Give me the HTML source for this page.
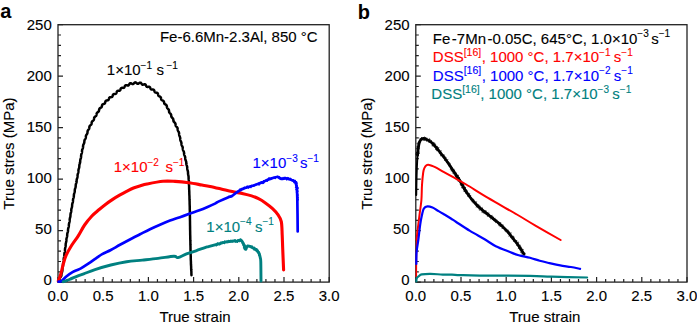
<!DOCTYPE html>
<html><head><meta charset="utf-8"><style>
html,body{margin:0;padding:0;background:#fff;width:697px;height:325px;overflow:hidden}
svg{display:block}
.t{font-family:"Liberation Sans",sans-serif;font-size:15px;stroke-width:0.12}
.sup{font-size:10px}
.big{font-family:"Liberation Sans",sans-serif;font-size:20px;font-weight:bold}
</style></head><body>
<svg width="697" height="325" viewBox="0 0 697 325">
<rect x="58.0" y="24.7" width="271.2" height="257.4" fill="none" stroke="#222" stroke-width="1.3"/>
<path d="M58.00,282.1V277.1M67.04,282.1V279.1M76.08,282.1V279.1M85.12,282.1V279.1M94.16,282.1V279.1M103.20,282.1V277.1M112.24,282.1V279.1M121.28,282.1V279.1M130.32,282.1V279.1M139.36,282.1V279.1M148.40,282.1V277.1M157.44,282.1V279.1M166.48,282.1V279.1M175.52,282.1V279.1M184.56,282.1V279.1M193.60,282.1V277.1M202.64,282.1V279.1M211.68,282.1V279.1M220.72,282.1V279.1M229.76,282.1V279.1M238.80,282.1V277.1M247.84,282.1V279.1M256.88,282.1V279.1M265.92,282.1V279.1M274.96,282.1V279.1M284.00,282.1V277.1M293.04,282.1V279.1M302.08,282.1V279.1M311.12,282.1V279.1M320.16,282.1V279.1M329.20,282.1V277.1M58.0,282.10H63.0M58.0,271.80H61.0M58.0,261.51H61.0M58.0,251.21H61.0M58.0,240.92H61.0M58.0,230.62H63.0M58.0,220.32H61.0M58.0,210.03H61.0M58.0,199.73H61.0M58.0,189.44H61.0M58.0,179.14H63.0M58.0,168.84H61.0M58.0,158.55H61.0M58.0,148.25H61.0M58.0,137.96H61.0M58.0,127.66H63.0M58.0,117.36H61.0M58.0,107.07H61.0M58.0,96.77H61.0M58.0,86.48H61.0M58.0,76.18H63.0M58.0,65.88H61.0M58.0,55.59H61.0M58.0,45.29H61.0M58.0,35.00H61.0M58.0,24.70H63.0" stroke="#222" stroke-width="1.2" fill="none"/>
<text x="58.0" y="300.5" text-anchor="middle" class="t" stroke="#000">0.0</text>
<text x="103.2" y="300.5" text-anchor="middle" class="t" stroke="#000">0.5</text>
<text x="148.4" y="300.5" text-anchor="middle" class="t" stroke="#000">1.0</text>
<text x="193.6" y="300.5" text-anchor="middle" class="t" stroke="#000">1.5</text>
<text x="238.8" y="300.5" text-anchor="middle" class="t" stroke="#000">2.0</text>
<text x="284.0" y="300.5" text-anchor="middle" class="t" stroke="#000">2.5</text>
<text x="329.2" y="300.5" text-anchor="middle" class="t" stroke="#000">3.0</text>
<text x="51.8" y="284.8" text-anchor="end" class="t" stroke="#000">0</text>
<text x="51.8" y="233.8" text-anchor="end" class="t" stroke="#000">50</text>
<text x="51.8" y="182.8" text-anchor="end" class="t" stroke="#000">100</text>
<text x="51.8" y="131.7" text-anchor="end" class="t" stroke="#000">150</text>
<text x="51.8" y="80.7" text-anchor="end" class="t" stroke="#000">200</text>
<text x="51.8" y="29.7" text-anchor="end" class="t" stroke="#000">250</text>
<text x="195.0" y="321.5" text-anchor="middle" class="t" stroke="#000">True strain</text>
<text transform="translate(13.5,153.5) rotate(-90)" x="0" y="0" text-anchor="middle" class="t" stroke="#000">True stres (MPa)</text>
<rect x="415.8" y="24.7" width="271.2" height="257.4" fill="none" stroke="#222" stroke-width="1.3"/>
<path d="M415.80,282.1V277.1M424.84,282.1V279.1M433.88,282.1V279.1M442.92,282.1V279.1M451.96,282.1V279.1M461.00,282.1V277.1M470.04,282.1V279.1M479.08,282.1V279.1M488.12,282.1V279.1M497.16,282.1V279.1M506.20,282.1V277.1M515.24,282.1V279.1M524.28,282.1V279.1M533.32,282.1V279.1M542.36,282.1V279.1M551.40,282.1V277.1M560.44,282.1V279.1M569.48,282.1V279.1M578.52,282.1V279.1M587.56,282.1V279.1M596.60,282.1V277.1M605.64,282.1V279.1M614.68,282.1V279.1M623.72,282.1V279.1M632.76,282.1V279.1M641.80,282.1V277.1M650.84,282.1V279.1M659.88,282.1V279.1M668.92,282.1V279.1M677.96,282.1V279.1M687.00,282.1V277.1M415.8,282.10H420.8M415.8,271.80H418.8M415.8,261.51H418.8M415.8,251.21H418.8M415.8,240.92H418.8M415.8,230.62H420.8M415.8,220.32H418.8M415.8,210.03H418.8M415.8,199.73H418.8M415.8,189.44H418.8M415.8,179.14H420.8M415.8,168.84H418.8M415.8,158.55H418.8M415.8,148.25H418.8M415.8,137.96H418.8M415.8,127.66H420.8M415.8,117.36H418.8M415.8,107.07H418.8M415.8,96.77H418.8M415.8,86.48H418.8M415.8,76.18H420.8M415.8,65.88H418.8M415.8,55.59H418.8M415.8,45.29H418.8M415.8,35.00H418.8M415.8,24.70H420.8" stroke="#222" stroke-width="1.2" fill="none"/>
<text x="415.8" y="300.5" text-anchor="middle" class="t" stroke="#000">0.0</text>
<text x="461.0" y="300.5" text-anchor="middle" class="t" stroke="#000">0.5</text>
<text x="506.2" y="300.5" text-anchor="middle" class="t" stroke="#000">1.0</text>
<text x="551.4" y="300.5" text-anchor="middle" class="t" stroke="#000">1.5</text>
<text x="596.6" y="300.5" text-anchor="middle" class="t" stroke="#000">2.0</text>
<text x="641.8" y="300.5" text-anchor="middle" class="t" stroke="#000">2.5</text>
<text x="687.0" y="300.5" text-anchor="middle" class="t" stroke="#000">3.0</text>
<text x="409.6" y="284.8" text-anchor="end" class="t" stroke="#000">0</text>
<text x="409.6" y="233.8" text-anchor="end" class="t" stroke="#000">50</text>
<text x="409.6" y="182.8" text-anchor="end" class="t" stroke="#000">100</text>
<text x="409.6" y="131.7" text-anchor="end" class="t" stroke="#000">150</text>
<text x="409.6" y="80.7" text-anchor="end" class="t" stroke="#000">200</text>
<text x="409.6" y="29.7" text-anchor="end" class="t" stroke="#000">250</text>
<text x="544.8" y="321.5" text-anchor="middle" class="t" stroke="#000">True strain</text>
<text transform="translate(372.3,153.5) rotate(-90)" x="0" y="0" text-anchor="middle" class="t" stroke="#000">True stres (MPa)</text>
<polyline points="58.50,281.50 58.66,281.33 58.85,281.15 59.05,280.95 59.23,280.71 59.38,280.43 59.50,280.10 59.56,279.73 59.59,279.31 59.63,278.88 59.69,278.45 59.83,278.04 60.06,277.65 60.36,277.28 60.69,276.90 61.00,276.50 61.24,276.05 61.37,275.56 61.43,275.04 61.44,274.50 61.47,273.97 61.52,273.64 61.59,273.32 61.69,272.99 61.80,272.67 61.93,272.34 62.05,272.00 62.16,271.66 62.25,271.31 62.31,270.95 62.35,270.58 62.37,270.21 62.38,269.82 62.39,269.44 62.40,269.04 62.43,268.65 62.48,268.25 62.56,267.85 62.65,267.44 62.75,267.03 62.85,266.62 62.92,266.19 62.97,265.75 63.00,265.31 63.01,264.85 63.01,264.39 63.03,263.92 63.08,263.45 63.16,262.97 63.27,262.49 63.39,262.01 63.51,261.52 63.60,261.01 63.64,260.68 63.66,260.33 63.67,259.97 63.67,259.61 63.68,259.24 63.70,258.87 63.74,258.49 63.81,258.12 63.90,257.74 63.99,257.36 64.09,256.97 64.19,256.58 64.26,256.18 64.30,255.77 64.33,255.36 64.34,254.94 64.34,254.52 64.36,254.10 64.39,253.68 64.45,253.26 64.54,252.84 64.65,252.42 64.76,252.00 64.85,251.58 64.93,251.16 64.97,250.73 64.99,250.29 65.00,249.86 65.00,249.42 65.03,248.99 65.07,248.56 65.15,248.14 65.25,247.72 65.36,247.30 65.47,246.88 65.56,246.47 65.62,246.05 65.66,245.63 65.67,245.22 65.68,244.80 65.69,244.39 65.71,243.98 65.76,243.58 65.83,243.19 65.93,242.80 66.04,242.43 66.14,242.05 66.24,241.68 66.31,241.32 66.37,240.88 66.39,240.44 66.40,240.00 66.41,239.56 66.43,239.12 66.48,238.70 66.57,238.28 66.68,237.86 66.81,237.46 66.93,237.05 67.04,236.64 67.12,236.24 67.17,235.82 67.19,235.41 67.20,235.00 67.21,234.58 67.23,234.18 67.28,233.77 67.37,233.38 67.48,232.99 67.60,232.61 67.73,232.23 67.84,231.84 67.93,231.46 67.99,231.07 68.02,230.68 68.03,230.28 68.04,229.89 68.05,229.50 68.09,229.11 68.15,228.73 68.23,228.36 68.35,227.99 68.47,227.62 68.59,227.25 68.69,226.88 68.77,226.51 68.83,226.14 68.86,225.76 68.87,225.38 68.87,225.00 68.89,224.55 68.93,224.12 69.00,223.70 69.10,223.29 69.22,222.88 69.34,222.48 69.46,222.08 69.55,221.69 69.62,221.29 69.65,220.88 69.66,220.48 69.67,220.08 69.68,219.68 69.71,219.29 69.76,218.90 69.84,218.51 69.95,218.13 70.07,217.75 70.18,217.37 70.29,216.99 70.37,216.60 70.42,216.21 70.44,215.81 70.45,215.40 70.46,214.99 70.48,214.58 70.52,214.17 70.59,213.77 70.69,213.36 70.82,212.95 70.95,212.54 71.08,212.13 71.17,211.70 71.24,211.26 71.26,210.81 71.27,210.44 71.28,210.06 71.29,209.67 71.33,209.29 71.40,208.91 71.50,208.53 71.61,208.15 71.74,207.77 71.87,207.38 71.98,206.99 72.05,206.59 72.10,206.19 72.12,205.77 72.12,205.36 72.13,204.94 72.17,204.52 72.23,204.11 72.32,203.70 72.45,203.30 72.59,202.90 72.72,202.50 72.84,202.09 72.92,201.68 72.97,201.26 72.99,200.84 72.99,200.42 73.00,200.00 73.04,199.58 73.10,199.18 73.20,198.77 73.32,198.38 73.46,197.99 73.59,197.61 73.70,197.22 73.79,196.83 73.84,196.44 73.86,196.04 73.87,195.65 73.88,195.26 73.90,194.88 73.94,194.50 74.01,194.14 74.10,193.78 74.24,193.36 74.39,192.94 74.53,192.53 74.64,192.13 74.72,191.72 74.76,191.31 74.77,190.90 74.78,190.50 74.79,190.10 74.83,189.71 74.89,189.33 74.98,188.96 75.10,188.60 75.24,188.24 75.37,187.88 75.49,187.52 75.59,187.15 75.65,186.78 75.69,186.41 75.71,186.03 75.71,185.64 75.72,185.26 75.76,184.87 75.81,184.49 75.91,184.11 76.03,183.73 76.17,183.35 76.31,182.97 76.44,182.58 76.54,182.17 76.60,181.76 76.63,181.33 76.64,180.88 76.65,180.43 76.68,179.98 76.73,179.61 76.81,179.25 76.92,178.88 77.05,178.51 77.19,178.14 77.31,177.76 77.41,177.37 77.48,176.97 77.52,176.56 77.54,176.14 77.54,175.72 77.56,175.29 77.60,174.87 77.68,174.45 77.79,174.03 77.93,173.62 78.08,173.21 78.21,172.79 78.32,172.37 78.38,171.94 78.41,171.50 78.42,171.06 78.43,170.62 78.46,170.18 78.52,169.75 78.62,169.33 78.74,168.91 78.89,168.50 79.03,168.10 79.15,167.69 79.23,167.28 79.28,166.86 79.30,166.45 79.31,166.03 79.32,165.62 79.35,165.22 79.40,164.83 79.49,164.45 79.60,164.08 79.73,163.72 79.85,163.36 79.97,163.01 80.06,162.67 80.13,162.32 80.18,161.84 80.20,161.35 80.21,160.87 80.23,160.41 80.29,159.95 80.39,159.51 80.52,159.09 80.67,158.67 80.81,158.25 80.93,157.84 81.01,157.43 81.06,157.02 81.08,156.61 81.09,156.20 81.10,155.80 81.13,155.40 81.18,155.02 81.26,154.64 81.37,154.27 81.50,153.91 81.63,153.56 81.76,153.20 81.86,152.85 81.94,152.49 81.99,152.13 82.01,151.76 82.02,151.40 82.03,151.03 82.04,150.67 82.08,150.32 82.15,149.97 82.29,149.52 82.46,149.09 82.64,148.67 82.80,148.27 82.93,147.87 83.01,147.47 83.06,147.06 83.08,146.66 83.09,146.26 83.10,145.87 83.14,145.48 83.22,145.11 83.34,144.74 83.50,144.39 83.68,144.03 83.87,143.68 84.05,143.32 84.19,142.94 84.28,142.54 84.33,142.11 84.35,141.67 84.37,141.21 84.42,140.74 84.50,140.38 84.63,140.01 84.82,139.66 85.04,139.30 85.28,138.94 85.50,138.57 85.67,138.18 85.78,137.76 85.84,137.32 85.86,136.86 85.88,136.40 85.94,135.95 86.06,135.52 86.25,135.11 86.50,134.73 86.77,134.35 87.03,133.98 87.24,133.59 87.39,133.18 87.47,132.76 87.50,132.33 87.52,131.89 87.55,131.48 87.63,131.09 87.75,130.72 87.93,130.39 88.15,130.09 88.38,129.81 88.60,129.54 88.93,129.10 89.15,128.66 89.27,128.21 89.33,127.76 89.35,127.32 89.39,126.91 89.46,126.53 89.60,126.18 89.79,125.88 90.03,125.61 90.32,125.36 90.63,125.12 90.93,124.86 91.19,124.57 91.40,124.23 91.54,123.83 91.61,123.36 91.64,122.97 91.68,122.57 91.75,122.19 91.88,121.83 92.08,121.51 92.36,121.22 92.68,120.95 93.03,120.69 93.35,120.41 93.63,120.11 93.83,119.75 93.95,119.36 94.01,118.92 94.05,118.47 94.11,118.02 94.23,117.61 94.43,117.24 94.71,116.92 95.07,116.64 95.45,116.37 95.81,116.10 96.12,115.78 96.32,115.45 96.44,115.07 96.51,114.64 96.55,114.20 96.61,113.75 96.71,113.34 96.90,112.97 97.18,112.64 97.53,112.36 97.91,112.10 98.29,111.83 98.60,111.53 98.84,111.18 98.98,110.78 99.06,110.34 99.11,109.88 99.17,109.44 99.28,109.02 99.48,108.67 99.76,108.37 100.10,108.13 100.48,107.92 100.86,107.72 101.20,107.51 101.53,107.19 101.75,106.80 101.87,106.34 101.94,105.85 102.03,105.36 102.17,104.93 102.41,104.57 102.75,104.31 103.16,104.12 103.62,103.98 104.07,103.84 104.46,103.65 104.78,103.40 105.00,103.06 105.14,102.64 105.24,102.17 105.34,101.70 105.49,101.27 105.73,100.92 106.07,100.67 106.51,100.51 107.03,100.42 107.54,100.34 108.01,100.20 108.38,99.96 108.64,99.58 108.81,99.11 108.95,98.59 109.10,98.09 109.33,97.69 109.65,97.42 110.06,97.26 110.53,97.20 111.00,97.17 111.45,97.12 111.83,97.02 112.13,96.84 112.35,96.61 112.62,96.01 112.78,95.43 112.92,94.94 113.11,94.57 113.35,94.31 113.66,94.13 114.07,94.03 114.58,93.98 115.19,93.93 115.59,93.85 115.94,93.68 116.22,93.39 116.42,92.99 116.57,92.50 116.71,91.99 116.89,91.52 117.18,91.16 117.58,90.94 118.07,90.84 118.61,90.81 119.14,90.78 119.60,90.69 119.96,90.48 120.22,90.14 120.41,89.71 120.56,89.22 120.71,88.75 120.92,88.34 121.22,88.05 121.60,87.89 122.06,87.83 122.55,87.85 123.05,87.88 123.50,87.85 123.88,87.74 124.18,87.50 124.41,87.15 124.63,86.65 124.84,86.12 125.09,85.66 125.42,85.35 125.85,85.20 126.35,85.22 126.88,85.34 127.41,85.47 127.89,85.52 128.30,85.44 128.64,85.20 128.92,84.82 129.21,84.31 129.51,83.82 129.86,83.44 130.27,83.26 130.74,83.28 131.24,83.47 131.75,83.75 132.24,84.00 132.69,84.13 133.10,84.08 133.48,83.83 133.85,83.44 134.23,82.99 134.63,82.61 135.05,82.38 135.50,82.37 135.95,82.57 136.39,82.92 136.82,83.32 137.23,83.64 137.64,83.81 138.05,83.79 138.48,83.58 138.93,83.26 139.40,82.92 139.87,82.69 140.33,82.63 140.75,82.79 141.12,83.13 141.46,83.59 141.77,84.07 142.10,84.45 142.47,84.67 142.87,84.70 143.33,84.61 143.85,84.45 144.38,84.32 144.88,84.30 145.30,84.43 145.64,84.74 145.89,85.19 146.11,85.71 146.33,86.21 146.61,86.61 146.98,86.85 147.42,86.92 147.91,86.89 148.43,86.81 148.94,86.77 149.39,86.83 149.76,87.04 150.05,87.40 150.25,87.87 150.43,88.39 150.63,88.88 150.90,89.26 151.29,89.49 151.79,89.59 152.26,89.60 152.75,89.59 153.22,89.62 153.63,89.74 153.95,90.00 154.19,90.38 154.36,90.85 154.50,91.35 154.67,91.81 154.91,92.18 155.25,92.43 155.69,92.57 156.20,92.65 156.72,92.73 157.20,92.88 157.57,93.14 157.81,93.48 157.96,93.89 158.05,94.35 158.13,94.81 158.23,95.25 158.42,95.63 158.69,95.94 159.06,96.18 159.48,96.39 159.92,96.60 160.32,96.84 160.63,97.14 160.85,97.52 160.98,97.96 161.05,98.44 161.12,98.92 161.23,99.38 161.44,99.77 161.72,100.05 162.08,100.28 162.49,100.47 162.91,100.65 163.30,100.87 163.61,101.15 163.83,101.49 163.97,101.91 164.04,102.37 164.11,102.83 164.21,103.27 164.38,103.65 164.64,103.96 164.98,104.21 165.37,104.42 165.77,104.63 166.13,104.87 166.42,105.14 166.63,105.47 166.76,105.84 166.84,106.30 166.88,106.76 166.93,107.19 167.02,107.57 167.18,107.92 167.40,108.23 167.66,108.52 167.95,108.79 168.25,109.08 168.52,109.38 168.74,109.72 168.89,110.09 168.99,110.51 169.03,110.97 169.06,111.46 169.13,111.96 169.31,112.44 169.49,112.74 169.74,113.01 170.02,113.29 170.33,113.56 170.62,113.85 170.86,114.18 171.03,114.54 171.14,114.94 171.19,115.38 171.22,115.84 171.27,116.29 171.38,116.71 171.57,117.10 171.84,117.45 172.17,117.77 172.52,118.09 172.83,118.42 173.08,118.78 173.24,119.18 173.32,119.61 173.36,120.06 173.39,120.51 173.45,120.94 173.58,121.32 173.77,121.67 174.02,121.99 174.34,122.31 174.68,122.61 174.99,122.92 175.23,123.26 175.40,123.62 175.49,124.02 175.54,124.43 175.57,124.86 175.62,125.27 175.71,125.65 175.88,126.00 176.10,126.31 176.39,126.61 176.69,126.89 176.99,127.19 177.25,127.51 177.44,127.87 177.57,128.27 177.63,128.70 177.65,129.14 177.68,129.60 177.74,130.04 177.87,130.48 178.03,130.81 178.22,131.14 178.43,131.48 178.63,131.83 178.82,132.19 178.95,132.57 179.04,132.97 179.09,133.38 179.11,133.81 179.12,134.24 179.14,134.66 179.21,135.08 179.32,135.50 179.47,135.90 179.65,136.30 179.83,136.70 179.99,137.11 180.11,137.52 180.19,137.94 180.22,138.37 180.24,138.81 180.25,139.24 180.28,139.67 180.35,140.08 180.47,140.48 180.62,140.86 180.80,141.23 180.99,141.60 181.15,141.96 181.29,142.37 181.38,142.79 181.43,143.21 181.44,143.63 181.46,144.06 181.49,144.47 181.57,144.87 181.69,145.25 181.86,145.62 182.06,145.97 182.26,146.33 182.45,146.68 182.60,147.05 182.70,147.43 182.76,147.83 182.78,148.24 182.79,148.65 182.82,149.06 182.87,149.47 182.97,149.86 183.12,150.25 183.31,150.64 183.51,151.02 183.70,151.42 183.86,151.83 183.97,152.26 184.02,152.63 184.04,153.02 184.05,153.42 184.07,153.81 184.11,154.21 184.18,154.60 184.30,154.98 184.46,155.35 184.64,155.73 184.81,156.10 184.97,156.48 185.09,156.88 185.17,157.28 185.21,157.70 185.22,158.12 185.23,158.54 185.26,158.96 185.33,159.38 185.44,159.78 185.58,160.17 185.75,160.56 185.92,160.95 186.07,161.35 186.18,161.75 186.25,162.16 186.28,162.58 186.29,163.00 186.30,163.41 186.33,163.83 186.38,164.23 186.47,164.62 186.59,165.01 186.73,165.40 186.87,165.78 187.00,166.16 187.10,166.55 187.17,166.95 187.21,167.35 187.22,167.75 187.23,168.15 187.24,168.55 187.27,168.95 187.33,169.35 187.43,169.73 187.54,170.12 187.66,170.50 187.78,170.89 187.87,171.28 187.94,171.67 187.99,172.07 188.01,172.47 188.01,172.87 188.02,173.28 188.04,173.68 188.07,174.08 188.14,174.48 188.22,174.88 188.31,175.28 188.40,175.67 188.48,176.08 188.54,176.48 188.57,176.89 188.59,177.29 188.59,177.68 188.60,178.07 188.60,178.46 188.62,178.84 188.65,179.21 188.69,179.59 188.74,179.96 188.78,180.33 188.83,180.70 188.87,181.07 188.90,181.45 188.91,181.82 188.92,182.20 188.93,182.58 188.93,182.97 188.93,183.36 188.94,183.75 188.95,184.15 188.97,184.55 189.00,184.96 189.03,185.37 189.06,185.79 189.08,186.22 189.10,186.66 189.11,187.10 189.12,187.56 189.12,188.03 189.12,188.50 189.13,188.99 189.15,189.49 189.19,190.00 189.21,190.33 189.24,190.67 189.26,191.01 189.28,191.35 189.29,191.70 189.30,192.05 189.31,192.40 189.31,192.76 189.31,193.12 189.31,193.49 189.32,193.85 189.33,194.22 189.35,194.59 189.37,194.97 189.39,195.35 189.42,195.73 189.44,196.11 189.46,196.50 189.47,196.89 189.47,197.28 189.47,197.68 189.48,198.07 189.48,198.47 189.48,198.88 189.50,199.28 189.51,199.69 189.54,200.10 189.56,200.51 189.58,200.92 189.60,201.34 189.61,201.75 189.62,202.17 189.62,202.60 189.62,203.02 189.62,203.44 189.63,203.87 189.64,204.30 189.66,204.73 189.68,205.16 189.70,205.60 189.72,206.03 189.73,206.47 189.74,206.90 189.75,207.34 189.75,207.78 189.75,208.22 189.75,208.67 189.76,209.11 189.78,209.55 189.79,210.00 189.81,210.37 189.82,210.74 189.84,211.11 189.85,211.48 189.85,211.86 189.86,212.24 189.86,212.62 189.86,213.00 189.86,213.38 189.86,213.77 189.87,214.16 189.88,214.55 189.89,214.94 189.90,215.33 189.91,215.73 189.92,216.12 189.93,216.52 189.94,216.92 189.94,217.32 189.94,217.72 189.94,218.13 189.94,218.53 189.95,218.94 189.95,219.35 189.96,219.75 189.97,220.16 189.98,220.57 189.99,220.98 190.00,221.39 190.01,221.81 190.01,222.22 190.01,222.63 190.01,223.05 190.01,223.46 190.02,223.88 190.02,224.29 190.03,224.71 190.04,225.12 190.05,225.54 190.06,225.95 190.07,226.37 190.08,226.78 190.08,227.20 190.08,227.62 190.08,228.03 190.08,228.45 190.09,228.86 190.09,229.28 190.10,229.69 190.11,230.10 190.13,230.52 190.14,230.93 190.15,231.34 190.16,231.75 190.16,232.16 190.17,232.57 190.17,232.98 190.17,233.39 190.17,233.79 190.18,234.20 190.19,234.60 190.20,235.00 190.22,235.41 190.23,235.82 190.25,236.23 190.26,236.64 190.26,237.06 190.27,237.47 190.27,237.89 190.27,238.31 190.27,238.73 190.28,239.15 190.29,239.57 190.31,240.00 190.32,240.42 190.34,240.85 190.36,241.27 190.37,241.70 190.37,242.12 190.37,242.55 190.38,242.98 190.38,243.40 190.38,243.83 190.39,244.26 190.40,244.68 190.42,245.11 190.44,245.53 190.46,245.96 190.47,246.38 190.48,246.80 190.49,247.23 190.49,247.65 190.49,248.07 190.49,248.49 190.50,248.90 190.51,249.32 190.52,249.73 190.54,250.14 190.56,250.55 190.58,250.96 190.60,251.37 190.61,251.77 190.61,252.17 190.62,252.57 190.62,252.97 190.62,253.36 190.62,253.75 190.63,254.14 190.64,254.53 190.66,254.91 190.68,255.28 190.70,255.66 190.72,256.03 190.74,256.40 190.75,256.76 190.75,257.12 190.76,257.48 190.76,257.83 190.76,258.18 190.76,258.53 190.77,258.87 190.78,259.20 190.80,259.71 190.83,260.21 190.86,260.72 190.89,261.22 190.91,261.72 190.93,262.22 190.93,262.71 190.93,263.21 190.94,263.70 190.95,264.18 190.98,264.66 191.02,265.14 191.06,265.61 191.09,266.07 191.12,266.53 191.14,266.99 191.14,267.43 191.15,267.88 191.15,268.31 191.16,268.74 191.17,269.16 191.20,269.57 191.23,269.97 191.27,270.36 191.30,270.75 191.33,271.12 191.36,271.49 191.37,271.85 191.38,272.19 191.39,272.53 191.39,272.85 191.39,273.16 191.39,273.46 191.40,273.75 191.41,274.03 191.42,274.29 191.44,274.54 191.46,274.77 191.48,274.99 191.49,275.20" fill="none" stroke="#000" stroke-width="2.5" stroke-linejoin="round" stroke-linecap="round"/>
<path d="M58.30,281.00C58.68,279.97 59.75,277.68 60.60,274.80C61.45,271.92 62.48,266.93 63.40,263.70C64.32,260.47 64.72,258.47 66.10,255.40C67.48,252.33 69.70,248.52 71.70,245.30C73.70,242.08 75.95,239.48 78.10,236.10C80.25,232.72 82.30,228.35 84.60,225.00C86.90,221.65 89.52,218.53 91.90,216.00C94.28,213.47 96.58,211.77 98.90,209.80C101.22,207.83 103.50,205.93 105.80,204.20C108.10,202.47 110.40,200.90 112.70,199.40C115.00,197.90 117.28,196.53 119.60,195.20C121.92,193.87 124.28,192.60 126.60,191.40C128.92,190.20 131.20,188.93 133.50,188.00C135.80,187.07 138.15,186.47 140.40,185.80C142.65,185.13 143.23,184.75 147.00,184.00C150.77,183.25 158.33,181.73 163.00,181.30C167.67,180.87 170.70,181.17 175.00,181.40C179.30,181.63 184.32,182.10 188.80,182.70C193.28,183.30 198.37,184.37 201.90,185.00C205.43,185.63 206.80,185.83 210.00,186.50C213.20,187.17 217.40,188.15 221.10,189.00C224.80,189.85 228.52,190.82 232.20,191.60C235.88,192.38 239.97,192.98 243.20,193.70C246.43,194.42 249.05,195.07 251.60,195.90C254.15,196.73 256.20,197.53 258.50,198.70C260.80,199.87 263.10,201.28 265.40,202.90C267.70,204.52 270.22,206.45 272.30,208.40C274.38,210.35 276.40,212.40 277.90,214.60C279.40,216.80 280.58,218.20 281.30,221.60C282.02,225.00 281.97,230.52 282.20,235.00C282.43,239.48 282.47,242.67 282.70,248.50C282.93,254.33 283.45,266.42 283.60,270.00" fill="none" stroke="#ff0000" stroke-width="3.1" stroke-linejoin="round" stroke-linecap="round"/>
<path d="M58.50,281.60C58.98,281.53 60.10,282.05 61.40,281.20C62.70,280.35 64.45,278.00 66.30,276.50C68.15,275.00 70.55,273.33 72.50,272.20C74.45,271.07 76.60,270.33 78.00,269.70C79.40,269.07 79.18,269.40 80.90,268.40C82.62,267.40 85.78,265.37 88.30,263.70C90.82,262.03 93.68,259.98 96.00,258.40C98.32,256.82 99.73,255.60 102.20,254.20C104.67,252.80 107.83,251.57 110.80,250.00C113.77,248.43 116.42,246.77 120.00,244.80C123.58,242.83 128.97,239.95 132.30,238.20C135.63,236.45 137.05,235.80 140.00,234.30C142.95,232.80 146.67,230.80 150.00,229.20C153.33,227.60 156.67,226.13 160.00,224.70C163.33,223.27 166.67,221.85 170.00,220.60C173.33,219.35 176.67,218.37 180.00,217.20C183.33,216.03 186.77,214.75 190.00,213.60C193.23,212.45 196.57,211.37 199.40,210.30C202.23,209.23 204.40,208.32 207.00,207.20C209.60,206.08 213.10,204.53 215.00,203.60C216.90,202.67 216.25,202.63 218.40,201.60C220.55,200.57 225.63,198.33 227.90,197.40C230.17,196.47 230.58,196.80 232.00,196.00C233.42,195.20 234.92,193.65 236.40,192.60C237.88,191.55 239.17,190.55 240.90,189.70C242.63,188.85 244.58,188.25 246.80,187.50C249.02,186.75 251.67,186.02 254.20,185.20C256.73,184.38 259.93,183.43 262.00,182.60C264.07,181.77 265.07,180.87 266.60,180.20C268.13,179.53 269.43,179.13 271.20,178.60C272.97,178.07 275.50,176.93 277.20,177.00C278.90,177.07 279.93,178.77 281.40,179.00C282.87,179.23 284.32,178.23 286.00,178.40C287.68,178.57 290.03,179.47 291.50,180.00C292.97,180.53 293.95,180.52 294.80,181.60C295.65,182.68 296.18,183.77 296.60,186.50C297.02,189.23 297.12,190.50 297.30,198.00C297.48,205.50 297.63,225.92 297.70,231.50" fill="none" stroke="#0000ff" stroke-width="2.7" stroke-linejoin="round" stroke-linecap="round"/>
<polyline points="240.01,188.94 241.52,190.11 241.63,188.41 242.95,189.55 243.71,189.29 243.94,187.42 244.81,187.26 245.99,187.97 246.58,186.84 247.11,186.01 248.58,188.07 248.92,186.48 249.86,186.78 250.97,187.59 251.22,185.54 252.17,185.79 253.18,186.19 254.03,186.05 254.58,185.05 255.35,184.72 256.22,184.65 257.03,184.31 257.81,183.89 259.08,184.99 259.17,182.54 260.38,183.57 260.87,182.61 261.25,181.62 262.98,183.49 263.85,182.89 263.63,180.66 264.99,181.38 265.82,181.27 266.04,179.98 267.44,181.15 267.65,179.58 268.43,179.44 268.78,178.01 269.70,178.18 270.77,178.72 271.60,178.59 272.48,178.62 273.13,177.84 273.93,177.38 275.17,178.46 275.61,176.80 276.49,177.11 277.25,176.23 278.35,176.41 279.36,176.72 280.06,177.37 280.75,177.76 281.30,178.02 281.83,177.94 282.60,178.94 283.08,177.48 284.19,178.31 284.97,177.16 286.02,178.11 286.51,179.79 287.85,177.60 288.68,178.03 289.39,178.79 290.48,178.30 291.04,179.16 291.53,179.91 292.57,179.76 293.41,179.91 293.72,181.14 295.31,180.46 293.93,182.63 296.53,181.65 296.69,182.45 297.15,183.17 295.76,184.51 297.22,185.18 296.66,186.49 295.53,187.23 298.05,187.43 296.53,188.17 298.04,188.54 295.97,189.31 297.30,189.79 296.53,190.49 297.99,191.14 296.46,192.03 297.00,192.92 297.57,193.95 297.98,195.12 297.32,196.48 298.22,197.98 297.02,198.57 297.64,199.16 298.31,199.80" fill="none" stroke="#0000ff" stroke-width="1.4" stroke-linejoin="round" stroke-linecap="round"/>
<path d="M63.20,281.70C64.23,281.33 66.93,280.48 69.40,279.50C71.87,278.52 75.62,276.73 78.00,275.80C80.38,274.87 80.87,274.93 83.70,273.90C86.53,272.87 90.48,271.08 95.00,269.60C99.52,268.12 105.53,266.32 110.80,265.00C116.07,263.68 121.35,262.52 126.60,261.70C131.85,260.88 137.05,260.65 142.30,260.10C147.55,259.55 152.83,259.03 158.10,258.40C163.37,257.77 170.60,256.43 173.90,256.30C177.20,256.17 175.80,258.00 177.90,257.60C180.00,257.20 183.48,255.03 186.50,253.90C189.52,252.77 192.92,251.85 196.00,250.80C199.08,249.75 202.92,248.30 205.00,247.60C207.08,246.90 206.52,247.13 208.50,246.60C210.48,246.07 214.08,245.13 216.90,244.40C219.72,243.67 222.58,242.77 225.40,242.20C228.22,241.63 231.83,241.18 233.80,241.00C235.77,240.82 236.08,241.27 237.20,241.10C238.32,240.93 239.50,239.67 240.50,240.00C241.50,240.33 242.37,241.55 243.20,243.10C244.03,244.65 244.80,248.82 245.50,249.30C246.20,249.78 246.48,246.42 247.40,246.00C248.32,245.58 249.62,246.22 251.00,246.80C252.38,247.38 254.38,248.43 255.70,249.50C257.02,250.57 258.13,251.80 258.90,253.20C259.67,254.60 259.98,256.43 260.30,257.90C260.62,259.37 260.68,258.15 260.80,262.00C260.92,265.85 260.97,277.83 261.00,281.00" fill="none" stroke="#008080" stroke-width="2.9" stroke-linejoin="round" stroke-linecap="round"/>
<polyline points="215.11,244.42 216.39,245.80 217.08,245.09 217.36,242.91 218.36,243.42 219.62,244.82 220.39,244.45 220.65,242.19 221.68,242.77 222.34,241.95 223.38,242.65 224.43,243.49 224.72,240.98 225.74,241.79 226.52,241.23 227.61,242.39 228.22,240.52 229.24,241.38 230.03,240.67 230.86,240.47 231.81,241.54 232.60,241.88 233.21,241.18 233.83,241.38 235.05,239.63 235.67,242.11 236.46,241.37 237.41,242.28 237.69,240.06 239.56,241.66 240.10,241.45 240.75,239.07 241.36,239.91 241.46,240.96 242.11,241.49 242.75,242.18 242.24,243.61 243.53,243.78 242.89,244.96 245.28,245.27 244.25,246.64 243.56,247.89 244.85,248.39 244.35,249.45 245.76,248.73 246.36,249.42 245.86,248.11 246.84,247.22 247.57,246.62 247.65,245.56 248.41,246.05 249.02,246.73 250.21,246.12 251.11,246.55 252.17,246.03 252.44,247.41 253.17,247.88 254.57,247.27 253.99,249.83 255.36,249.29 256.87,248.78 257.03,249.93 258.07,250.14 257.82,251.49 258.84,251.77 259.51,252.37 259.05,253.57 260.18,254.03 258.82,255.36" fill="none" stroke="#008080" stroke-width="1.4" stroke-linejoin="round" stroke-linecap="round"/>
<path d="M416.20,195.00C416.27,191.67 416.43,180.83 416.60,175.00C416.77,169.17 416.97,164.17 417.20,160.00C417.43,155.83 417.77,152.33 418.00,150.00C418.23,147.67 418.50,146.67 418.60,146.00" fill="none" stroke="#000" stroke-width="2.0" stroke-linejoin="round" stroke-linecap="round"/>
<path d="M417.60,155.00C417.70,153.92 417.88,150.67 418.20,148.50C418.52,146.33 418.97,143.55 419.50,142.00C420.03,140.45 420.70,139.82 421.40,139.20C422.10,138.58 422.93,138.30 423.70,138.30C424.47,138.30 425.15,138.82 426.00,139.20C426.85,139.58 427.72,139.90 428.80,140.60C429.88,141.30 431.27,142.25 432.50,143.40C433.73,144.55 434.95,146.02 436.20,147.50C437.45,148.98 438.55,150.47 440.00,152.30C441.45,154.13 443.27,156.30 444.90,158.50C446.53,160.70 448.18,163.12 449.80,165.50C451.42,167.88 452.95,170.30 454.60,172.80C456.25,175.30 458.05,177.80 459.70,180.50C461.35,183.20 462.87,186.33 464.50,189.00C466.13,191.67 467.83,194.25 469.50,196.50C471.17,198.75 472.85,200.65 474.50,202.50C476.15,204.35 477.78,206.08 479.40,207.60C481.02,209.12 482.57,210.28 484.20,211.60C485.83,212.92 487.57,214.22 489.20,215.50C490.83,216.78 492.37,217.98 494.00,219.30C495.63,220.62 497.42,222.03 499.00,223.40C500.58,224.77 502.08,226.13 503.50,227.50C504.92,228.87 506.13,230.05 507.50,231.60C508.87,233.15 510.03,234.70 511.70,236.80C513.37,238.90 515.75,241.80 517.50,244.20C519.25,246.60 521.12,249.53 522.20,251.20C523.28,252.87 523.70,253.70 524.00,254.20" fill="none" stroke="#000" stroke-width="2.8" stroke-linejoin="round" stroke-linecap="round"/>
<polyline points="416.64,154.92 418.49,154.84 416.20,154.39 415.61,154.03 417.77,153.84 416.96,153.39 419.82,153.19 416.04,152.47 419.14,152.26 417.37,151.65 419.24,151.34 417.70,150.73 418.72,150.35 417.28,149.73 416.88,149.21 417.93,148.89 419.51,148.69 417.59,147.99 417.15,147.48 418.03,147.17 416.71,146.51 417.73,146.21 418.93,145.95 418.89,145.49 419.19,145.10 417.95,144.41 416.89,143.74 416.99,143.30 418.43,143.20 417.92,142.66 419.60,142.72 418.41,142.00 420.58,142.39 420.12,141.63 420.56,141.32 421.03,141.14 420.46,140.31 420.39,139.74 420.28,139.09 419.83,138.02 422.23,140.20 421.76,138.92 421.32,137.13 423.19,140.27 423.01,138.75 423.38,138.86 423.71,138.03 424.40,136.73 423.71,140.52 425.43,137.28 425.46,138.27 424.60,140.96 426.70,137.69 426.37,139.36 426.77,139.44 427.58,138.68 426.69,141.55 428.10,139.75 429.44,138.47 428.86,140.50 430.30,138.98 428.91,141.77 428.82,142.57 429.05,142.92 431.59,140.10 430.30,142.58 431.64,141.55 431.54,142.41 432.38,142.12 432.73,142.45 433.60,142.22 432.40,144.07 434.35,142.68 431.88,145.66 435.10,143.17 432.41,146.23 435.21,144.26 435.86,144.28 433.95,146.52 434.95,146.23 434.44,147.24 435.60,146.84 435.47,147.53 437.61,146.32 435.86,148.29 436.65,148.13 435.35,149.67 438.87,147.34 438.91,147.82 437.05,149.78 436.43,150.77 438.42,149.71 437.66,150.82 438.44,150.73 439.28,150.61 439.29,151.15 439.09,151.86 441.34,150.66 440.67,151.77 439.41,153.24 441.30,152.22 440.80,153.12 441.79,152.83 441.70,153.42 440.95,154.54 440.89,155.12 440.42,156.03 442.33,155.03 443.53,154.61 443.34,155.31 444.57,154.89 444.22,155.73 443.29,157.00 443.46,157.42 445.02,156.77 445.49,156.96 446.05,157.09 446.03,157.66 445.13,158.82 446.24,158.50 444.23,160.45 445.60,159.95 446.64,159.70 446.55,160.26 448.19,159.59 445.93,161.68 446.10,162.06 447.73,161.42 446.66,162.67 448.53,161.87 448.96,162.08 449.16,162.44 449.51,162.70 448.26,164.06 448.36,164.49 448.28,165.04 450.78,163.84 448.60,165.82 449.88,165.45 450.47,165.54 450.25,166.19 450.73,166.36 451.82,166.14 451.33,166.95 450.63,167.91 450.60,168.42 450.09,169.24 452.97,167.85 450.63,169.87 451.19,170.00 451.74,170.14 450.99,171.13 454.32,169.46 452.19,171.34 451.97,171.99 455.06,170.47 453.55,171.96 452.49,173.17 455.13,171.94 453.30,173.66 453.33,174.12 455.27,173.29 456.55,172.91 456.51,173.40 454.49,175.25 456.20,174.57 456.81,174.63 456.57,175.28 455.03,176.81 457.71,175.47 458.79,175.22 455.62,177.85 458.16,176.63 458.13,177.13 456.19,178.91 458.96,177.56 459.91,177.43 457.17,179.69 459.78,178.50 460.08,178.80 457.64,180.82 460.50,179.52 458.19,181.42 460.54,180.46 460.86,180.74 461.39,180.90 460.35,181.97 460.49,182.37 461.31,182.37 461.09,182.97 462.09,182.88 460.21,184.39 460.03,184.95 460.93,184.93 460.87,185.43 463.96,184.22 463.47,184.96 463.84,185.22 464.23,185.48 461.29,187.57 461.74,187.80 461.91,188.18 463.47,187.76 465.35,187.13 464.37,188.16 465.97,187.66 462.98,189.93 465.60,188.82 465.74,189.23 463.51,191.13 466.51,189.74 464.05,191.80 466.55,190.71 465.47,191.90 467.76,190.92 465.06,193.17 467.13,192.32 467.56,192.53 466.65,193.63 467.10,193.82 468.58,193.31 469.26,193.32 467.86,194.78 470.07,193.72 467.25,196.19 469.38,195.16 470.22,195.03 469.88,195.74 470.86,195.49 470.41,196.37 469.88,197.31 470.61,197.29 471.13,197.43 471.54,197.63 471.13,198.50 470.40,199.64 471.82,199.00 470.97,200.25 472.20,199.76 473.67,199.03 473.76,199.47 471.78,201.73 473.26,200.96 473.84,200.98 473.66,201.66 472.84,202.93 474.65,201.84 474.95,202.09 475.23,202.43 476.68,201.70 475.23,203.60 475.73,203.72 475.97,204.09 476.40,204.27 476.62,204.64 476.13,205.68 478.10,204.37 475.88,207.10 478.89,204.73 476.83,207.34 479.26,205.48 477.63,207.71 479.56,206.30 480.39,205.99 479.28,207.73 478.72,209.00 479.03,209.32 479.27,209.72 479.31,210.35 482.27,207.52 481.66,208.87 482.73,208.21 481.25,210.68 482.40,209.89 481.92,211.15 482.10,211.59 481.86,212.54 483.07,211.69 482.84,212.63 484.07,211.77 485.68,210.42 483.79,213.47 486.30,210.97 486.65,211.21 484.97,214.06 486.79,212.41 486.09,214.00 488.14,212.05 487.98,212.94 486.96,214.96 489.12,212.86 488.18,214.76 487.36,216.51 489.65,214.25 488.64,216.21 488.86,216.60 489.52,216.42 489.45,217.18 489.95,217.20 492.13,215.08 491.96,215.95 491.34,217.39 490.48,219.13 492.85,216.79 492.15,218.31 493.73,216.99 492.08,219.72 493.50,218.59 493.61,219.11 493.53,219.88 495.31,218.30 493.99,220.58 494.11,221.08 494.26,221.54 496.17,219.81 496.62,219.91 497.13,219.93 495.41,222.69 497.01,221.38 497.46,221.47 497.41,222.18 497.22,223.04 498.60,222.01 498.86,222.34 497.94,224.03 498.20,224.32 499.90,223.00 500.86,222.54 498.69,225.63 499.58,225.25 500.28,225.08 501.14,224.73 499.81,226.81 501.67,225.36 502.61,224.94 503.25,224.84 502.80,225.93 502.34,227.00 503.34,226.52 501.86,228.65 503.04,227.97 503.93,227.66 503.60,228.58 504.07,228.68 504.31,229.01 504.97,228.90 505.17,229.27 505.55,229.45 504.75,230.78 507.06,229.12 505.44,231.21 507.29,230.04 505.79,231.99 508.61,230.02 507.55,231.56 507.94,231.73 507.30,232.79 509.26,231.63 509.30,232.10 509.99,232.05 508.78,233.54 508.97,233.89 511.21,232.63 510.85,233.43 511.04,233.82 508.68,236.22 510.69,235.20 510.58,235.85 511.82,235.46 510.84,236.85 510.62,237.66 511.33,237.55 513.86,236.00 512.59,237.49 512.67,237.93 514.44,237.02 512.13,239.38 514.00,238.40 514.35,238.66 513.47,239.90 513.88,240.12 514.45,240.21 513.46,241.54 514.90,240.94 515.78,240.80 517.01,240.39 515.58,242.05 516.50,241.88 516.16,242.68 517.07,242.50 518.52,241.93 518.66,242.35 518.48,242.99 518.94,243.15 516.50,245.45 517.71,245.10 519.20,244.60 517.75,246.15 518.27,246.32 520.60,245.26 518.34,247.33 520.49,246.41 517.92,248.65 521.30,246.93 521.00,247.63 521.37,247.90 519.34,249.72 519.71,249.94 520.81,249.69 522.60,248.98 521.77,249.95 520.94,250.90 523.50,249.63 520.49,251.96 520.94,252.01 520.97,252.80 522.15,252.76 522.72,253.01 521.59,254.19 524.48,252.96 524.49,253.33 525.32,253.17 525.21,253.49" fill="none" stroke="#000" stroke-width="0.6" stroke-linejoin="round" stroke-linecap="round"/>
<path d="M416.3,277L416.4,262L416.6,242" fill="none" stroke="#ff0000" stroke-width="1.5" stroke-linejoin="round" stroke-linecap="round"/>
<path d="M416.60,240.00C416.73,238.67 417.12,234.57 417.40,232.00C417.68,229.43 417.95,227.47 418.30,224.60C418.65,221.73 418.98,218.90 419.50,214.80C420.02,210.70 420.98,204.97 421.40,200.00C421.82,195.03 421.70,189.58 422.00,185.00C422.30,180.42 422.78,175.37 423.20,172.50C423.62,169.63 423.95,169.00 424.50,167.80C425.05,166.60 425.88,165.80 426.50,165.30C427.12,164.80 427.45,164.77 428.20,164.80C428.95,164.83 429.85,165.12 431.00,165.50C432.15,165.88 432.93,166.00 435.10,167.10C437.27,168.20 440.98,170.42 444.00,172.10C447.02,173.78 449.50,175.13 453.20,177.20C456.90,179.27 460.40,181.05 466.20,184.50C472.00,187.95 479.55,192.90 488.00,197.90C496.45,202.90 509.00,209.88 516.90,214.50C524.80,219.12 528.12,221.35 535.40,225.60C542.68,229.85 556.40,237.60 560.60,240.00" fill="none" stroke="#ff0000" stroke-width="2.0" stroke-linejoin="round" stroke-linecap="round"/>
<path d="M416.30,264.00C416.35,262.00 416.27,256.00 416.60,252.00C416.93,248.00 417.70,244.57 418.30,240.00C418.90,235.43 419.58,228.80 420.20,224.60C420.82,220.40 421.40,217.47 422.00,214.80C422.60,212.13 422.88,210.00 423.80,208.60C424.72,207.20 426.05,206.57 427.50,206.40C428.95,206.23 430.65,206.82 432.50,207.60C434.35,208.38 436.55,209.90 438.60,211.10C440.65,212.30 442.75,213.57 444.80,214.80C446.85,216.03 449.00,217.30 450.90,218.50C452.80,219.70 453.02,219.93 456.20,222.00C459.38,224.07 465.27,228.02 470.00,230.90C474.73,233.78 480.30,236.75 484.60,239.30C488.90,241.85 491.67,244.12 495.80,246.20C499.93,248.28 505.58,250.28 509.40,251.80C513.22,253.32 515.27,254.30 518.70,255.30C522.13,256.30 526.50,256.88 530.00,257.80C533.50,258.72 536.47,259.92 539.70,260.80C542.93,261.68 545.98,262.33 549.40,263.10C552.82,263.87 556.62,264.75 560.20,265.40C563.78,266.05 567.58,266.43 570.90,267.00C574.22,267.57 578.57,268.50 580.10,268.80" fill="none" stroke="#0000ff" stroke-width="2.2" stroke-linejoin="round" stroke-linecap="round"/>
<path d="M416.40,281.50C416.45,280.97 416.30,279.18 416.70,278.30C417.10,277.42 417.95,276.85 418.80,276.20C419.65,275.55 419.85,274.80 421.80,274.40C423.75,274.00 427.00,273.77 430.50,273.80C434.00,273.83 439.22,274.45 442.80,274.60C446.38,274.75 449.13,274.62 452.00,274.70C454.87,274.78 455.33,274.95 460.00,275.10C464.67,275.25 468.33,275.48 480.00,275.60C491.67,275.72 518.08,275.62 530.00,275.80C541.92,275.98 541.98,276.42 551.50,276.70C561.02,276.98 581.17,277.37 587.10,277.50" fill="none" stroke="#008080" stroke-width="2.2" stroke-linejoin="round" stroke-linecap="round"/>
<text x="0.2" y="17.6" class="big">a</text>
<text x="357.8" y="18.5" class="big">b</text>
<text x="159.9" y="42.4" class="t" stroke="#000">Fe-6.6Mn-2.3Al, 850 °C</text>
<text x="106.8" y="75.4" class="t" fill="#000" stroke="#000">1×10<tspan class="sup" dy="-6.5">−1</tspan><tspan dy="6.5" dx="4.5">s</tspan><tspan class="sup" dy="-6.5" dx="2.5">−1</tspan></text>
<text x="113.7" y="172" class="t" fill="#ff0000" stroke="#ff0000">1×10<tspan class="sup" dy="-6.5">−2</tspan><tspan dy="6.5" dx="6.5">s</tspan><tspan class="sup" dy="-6.5" dx="0">−1</tspan></text>
<text x="252.5" y="168" class="t" fill="#0000ff" stroke="#0000ff">1×10<tspan class="sup" dy="-6.5">−3</tspan><tspan dy="6.5" dx="2.2">s</tspan><tspan class="sup" dy="-6.5" dx="0">−1</tspan></text>
<text x="206.3" y="231.6" class="t" fill="#008080" stroke="#008080">1×10<tspan class="sup" dy="-6.5">−4</tspan><tspan dy="6.5" dx="3.5">s</tspan><tspan class="sup" dy="-6.5" dx="0">−1</tspan></text>
<text x="432.8" y="43.6" class="t" stroke="#000">Fe<tspan dx="1.5">-7Mn</tspan><tspan dx="1.5">-0.05C, 645°C, 1.0×10</tspan><tspan class="sup" dy="-6.5">−3</tspan><tspan dy="6.5" dx="2.5">s</tspan><tspan class="sup" dy="-6.5">−1</tspan></text>
<text x="432.8" y="62" class="t" fill="#ff0000" stroke="#ff0000">DSS<tspan class="sup" dy="-6.5" style="font-size:10.5px">[16]</tspan><tspan dy="6.5" dx="0.6">, 1000 °C, 1.7×10</tspan><tspan class="sup" dy="-6.5">−1</tspan><tspan dy="6.5" dx="3.3">s</tspan><tspan class="sup" dy="-6.5">−1</tspan></text>
<text x="432.8" y="80.7" class="t" fill="#0000ff" stroke="#0000ff">DSS<tspan class="sup" dy="-6.5" style="font-size:10.5px">[16]</tspan><tspan dy="6.5" dx="0.6">, 1000 °C, 1.7×10</tspan><tspan class="sup" dy="-6.5">−2</tspan><tspan dy="6.5" dx="3.3">s</tspan><tspan class="sup" dy="-6.5">−1</tspan></text>
<text x="431.3" y="99" class="t" fill="#008080" stroke="#008080">DSS<tspan class="sup" dy="-6.5" style="font-size:10.5px">[16]</tspan><tspan dy="6.5" dx="0.6">, 1000 °C, 1.7×10</tspan><tspan class="sup" dy="-6.5">−3</tspan><tspan dy="6.5" dx="3.3">s</tspan><tspan class="sup" dy="-6.5">−1</tspan></text>
</svg>
</body></html>
